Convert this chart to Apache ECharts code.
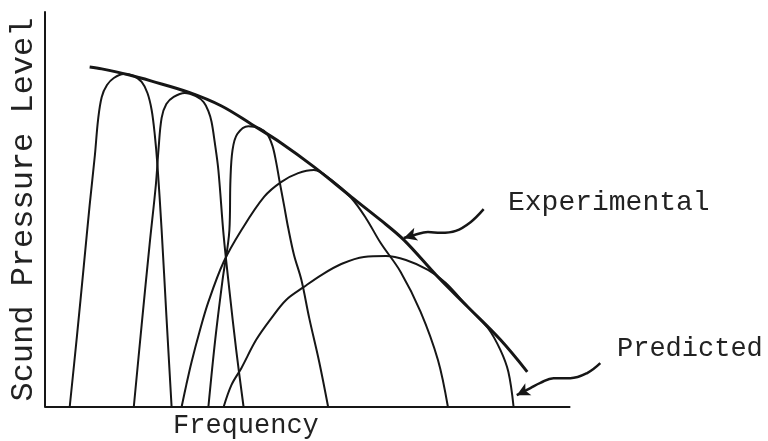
<!DOCTYPE html>
<html>
<head>
<meta charset="utf-8">
<title>Sound Pressure Level vs Frequency</title>
<script src="https://cdn.jsdelivr.net/npm/echarts@6/dist/echarts.min.js"></script>
<style>
  html, body { margin: 0; padding: 0; background: #fff; }
  #chart { width: 768px; height: 441px; }
</style>
</head>
<body>
<div id="chart"></div>
<script>
// schematic values, frequency 0-100 and level 0-100
var experimental = [[8.5, 86.1], [10.8, 85.6], [15.9, 84.1], [20.3, 82.5], [27.3, 79.7], [33.6, 76.2],
  [39.3, 71.6], [45.0, 66.8], [51.2, 60.8], [58.3, 53.2], [63.9, 47.3], [68.3, 42.3], [74.8, 32.9],
  [80.5, 25.3], [86.7, 17.0], [91.8, 8.9]];

// predicted band curves
var band1 = [[4.7, 0], [6.1, 18.2], [7.4, 35.9], [8.5, 51.1], [9.5, 63.8], [10.1, 72.7], [10.8, 78.5],
  [11.8, 81.5], [13.1, 83.3], [15.0, 84.3], [16.9, 83.8], [18.4, 82.3], [19.5, 79.5], [20.3, 75.2],
  [20.9, 68.9], [21.4, 61.3], [22.2, 44.8], [23.1, 23.3], [24.1, 0]];
var band2 = [[16.9, 0], [18.4, 20.8], [19.9, 41.0], [21.1, 56.2], [21.6, 65.1], [22.2, 73.2], [23.1, 76.7],
  [24.5, 78.5], [26.6, 79.5], [28.7, 78.7], [30.2, 77.2], [31.1, 74.9], [31.7, 72.2], [32.3, 67.1],
  [33.0, 60.0], [34.0, 43.5], [35.1, 29.6], [36.4, 14.4], [37.8, 0]];
var band3 = [[31.1, 0], [32.4, 17.0], [33.8, 32.2], [35.1, 44.8], [35.3, 57.5], [35.7, 65.1], [36.6, 69.1],
  [38.7, 71.1], [40.8, 70.6], [42.3, 69.1], [43.3, 66.1], [44.0, 62.0], [44.6, 57.5], [45.5, 51.1],
  [46.3, 45.3], [47.4, 38.5], [48.8, 32.2], [50.3, 22.5], [52.2, 11.4], [53.9, 0]];
var band4 = [[26.0, 0], [26.9, 5.6], [27.9, 11.4], [29.4, 19.0], [31.1, 26.6], [34.0, 36.7], [37.4, 44.8],
  [41.7, 53.2], [45.0, 57.0], [48.2, 59.2], [51.2, 60.0], [54.5, 57.5], [58.3, 52.9], [61.1, 47.8],
  [63.9, 41.5], [67.7, 34.2], [71.5, 24.1], [74.8, 11.9], [76.7, 0]];
var band5 = [[34.0, 0], [35.5, 5.6], [37.4, 9.9], [40.2, 17.0], [43.1, 22.5], [45.9, 27.1], [49.3, 30.4],
  [52.6, 33.4], [56.4, 36.2], [60.7, 38.0], [64.9, 38.2], [68.7, 37.2], [72.9, 34.7], [76.3, 31.4],
  [80.5, 25.3], [84.3, 20.0], [86.7, 14.4], [88.2, 8.9], [89.2, 0]];

// hand drawn pointer arrows (tail -> tip)
var arrowExp = [[83.5, 50.1], [81.0, 46.8], [78.2, 44.6], [75.3, 44.1], [72.9, 44.3], [70.2, 43.5], [68.3, 42.8]];
var arrowPred = [[105.7, 11.1], [103.2, 8.6], [100.0, 7.3], [96.8, 7.3], [94.3, 6.1], [92.4, 4.8], [89.8, 3.0]];

// frequency axis only runs to 100, the rest of the grid holds the labels
var baseLine = [[0, 0], [100, 0]];

var ink = "#161616";
var typeFont = "'Liberation Mono', 'DejaVu Sans Mono', monospace";

function curve(name, data, width) {
  return {
    name: name,
    type: "line",
    data: data,
    smooth: 0.35,
    showSymbol: false,
    symbol: "none",
    silent: true,
    lineStyle: { color: ink, width: width }
  };
}

function arrow(name, data, rotate) {
  var pts = data.map(function(p, i) {
    if (i === data.length - 1) {
      return { value: p, symbol: "arrow", symbolSize: [10, 13], symbolRotate: rotate, itemStyle: { color: ink } };
    }
    return { value: p, symbol: "none" };
  });
  return {
    name: name,
    type: "line",
    data: pts,
    smooth: 0.4,
    silent: true,
    showSymbol: true,
    lineStyle: { color: ink, width: 2.5 }
  };
}

var myChart = echarts.init(document.getElementById("chart"));
var option = {
  animation: false,
  backgroundColor: "#fff",
  grid: { left: 43, right: 92.6, top: 12, bottom: 34 },
  xAxis: {
    type: "value",
    min: 0,
    max: 120,
    axisLine: { show: false },
    axisTick: { show: false },
    axisLabel: { show: false },
    splitLine: { show: false }
  },
  yAxis: {
    type: "value",
    min: 0,
    max: 100,
    name: "Scund Pressure Level",
    nameLocation: "middle",
    nameRotate: 90,
    nameGap: 5,
    nameTextStyle: { color: "#222", fontFamily: typeFont, fontSize: 32 },
    axisLine: { show: true, lineStyle: { color: ink, width: 2 } },
    axisTick: { show: false },
    axisLabel: { show: false },
    splitLine: { show: false }
  },
  graphic: [
    { type: "text", left: 508, top: 189, silent: true,
      style: { text: "Experimental", fill: "#222", font: "28px " + typeFont } },
    { type: "text", left: 617, top: 335, silent: true,
      style: { text: "Predicted", fill: "#222", font: "27px " + typeFont } },
    { type: "text", left: 173, top: 412, silent: true,
      style: { text: "Frequency", fill: "#222", font: "27px " + typeFont } }
  ],
  series: [
    curve("Frequency axis", baseLine, 2),
    curve("Experimental", experimental, 3),
    curve("Band 1", band1, 2),
    curve("Band 2", band2, 2),
    curve("Band 3", band3, 2),
    curve("Band 4", band4, 2),
    curve("Band 5", band5, 2),
    arrow("Experimental pointer", arrowExp, 107),
    arrow("Predicted pointer", arrowPred, 117)
  ]
};
myChart.setOption(option);
</script>
</body>
</html>
